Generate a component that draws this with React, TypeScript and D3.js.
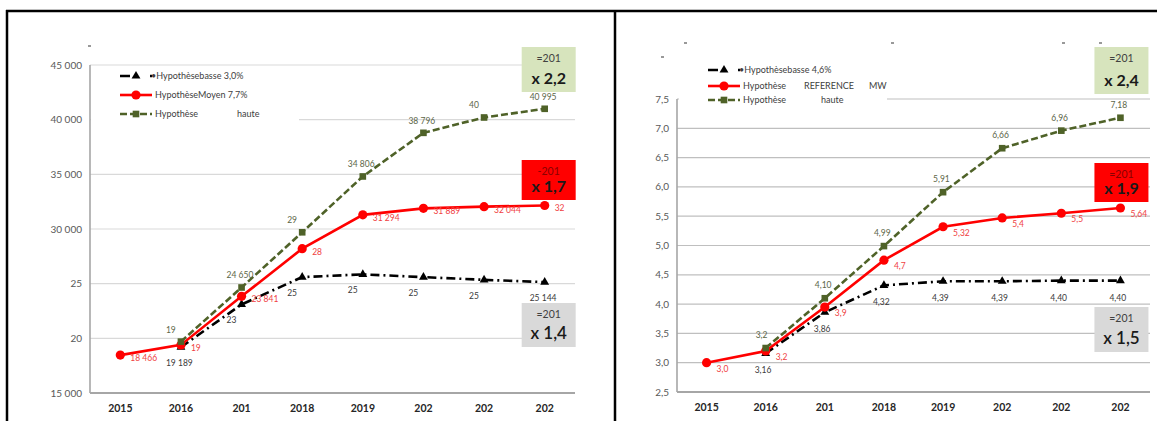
import * as d3 from "d3";
import React from "react";

const W = 1157;
const H = 421;
const FONT = "Lato, 'Open Sans', sans-serif";

// categories (truncated like in the source picture)
const years = ["2015", "2016", "201", "2018", "2019", "202", "202", "202"];

// left chart: demand
const demBasse = [null, 19189, 23100, 25600, 25850, 25600, 25350, 25144];
const demMoyen = [18466, 19400, 23841, 28200, 31294, 31889, 32044, 32150];
const demHaute = [null, 19700, 24650, 29700, 34806, 38796, 40200, 40995];
const demBasseLbl = [null, "19 189", "23", "25", "25", "25", "25", "25 144"];
const demMoyenLbl = ["18 466", "19", "23 841", "28", "31 294", "31 889", "32 044", "32"];
const demHauteLbl = [null, "19", "24 650", "29", "34 806", "38 796", "40", "40 995"];
const demTicks = [15000, 20000, 25000, 30000, 35000, 40000, 45000];
const demTickLbl = ["15 000", "20", "25", "30 000", "35 000", "40 000", "45 000"];
const demRatios = ["x 2,2", "x 1,7", "x 1,4"];
const demRatioHead = ["=201", "-201", "=201"];

// right chart: power
const pwrBasse = [null, 3.16, 3.86, 4.32, 4.39, 4.39, 4.4, 4.4];
const pwrMoyen = [3.0, 3.2, 3.95, 4.75, 5.32, 5.47, 5.55, 5.64];
const pwrHaute = [null, 3.25, 4.1, 4.99, 5.91, 6.66, 6.96, 7.18];
const pwrBasseLbl = [null, "3,16", "3,86", "4,32", "4,39", "4,39", "4,40", "4,40"];
const pwrMoyenLbl = ["3,0", "3,2", "3,9", "4,7", "5,32", "5,4", "5,5", "5,64"];
const pwrHauteLbl = [null, "3,2", "4,10", "4,99", "5,91", "6,66", "6,96", "7,18"];
const pwrTicks = [2.5, 3, 3.5, 4, 4.5, 5, 5.5, 6, 6.5, 7, 7.5];
const pwrTickLbl = ["2,5", "3,0", "3,5", "4,0", "4,5", "5,0", "5,5", "6,0", "6,5", "7,0", "7,5"];
const pwrRatios = ["x 2,4", "x 1,9", "x 1,5"];
const pwrRatioHead = ["=201", "=201", "=201"];

type Num = number | null;
type Kind = "basse" | "moyen" | "haute";

const STYLE: Record<Kind, { stroke: string; dash?: string; label: string }> = {
  basse: { stroke: "#000000", dash: "9,4,2,4", label: "#3a3a3a" },
  moyen: { stroke: "#ff0000", label: "#f0413f" },
  haute: { stroke: "#4f6228", dash: "7,3", label: "#5c6648" },
};

function Marker({ kind, x, y }: { kind: Kind; x: number; y: number }) {
  if (kind === "moyen") return <circle cx={x} cy={y} r={4.6} fill="#ff0000" />;
  const type = kind === "basse" ? d3.symbolTriangle : d3.symbolSquare;
  const size = kind === "basse" ? 34 : 44;
  return (
    <path
      d={d3.symbol().type(type).size(size)() || ""}
      transform={`translate(${x},${y})`}
      fill={STYLE[kind].stroke}
    />
  );
}

type SeriesDef = {
  kind: Kind;
  values: Num[];
  labels: (string | null)[];
  dx: number;
  dy: number;
};

type LegendRow = { kind: Kind; parts: [string, number][] };

type PanelProps = {
  left: number;
  right: number;
  top: number;
  bottom: number;
  domain: [number, number];
  ticks: number[];
  tickLbl: string[];
  grid: string;
  series: SeriesDef[];
  legend: { x: number; y: number; w: number; h: number; rows: LegendRow[]; rowY: number[] };
  boxes: { top: number; h: number; fill: string; head: string; ratio: string; headColor: string; bold: boolean; size: number }[];
  boxDx: number;
  dashes: [number, number][];
};

function Panel(p: PanelProps) {
  const x = d3
    .scaleBand<string>()
    .domain(years.map((_, i) => String(i)))
    .range([p.left, p.right]);
  const cx = (i: number) => (x(String(i)) as number) + x.bandwidth() / 2;
  const y = d3.scaleLinear().domain(p.domain).range([p.bottom, p.top]);
  const line = d3
    .line<Num>()
    .defined((v) => v != null)
    .x((_, i) => cx(i))
    .y((v) => y(v as number));
  const last = years.length - 1;
  const bw = 54;

  return (
    <g>
      {/* grid */}
      {p.ticks.map((t, i) => (
        <line key={"g" + i} x1={p.left} x2={p.right} y1={y(t)} y2={y(t)} stroke={p.grid} strokeWidth={1.2} />
      ))}
      {p.ticks.map((t, i) => (
        <text
          key={"t" + i}
          x={p.left - 8}
          y={y(t) + 3.5}
          textAnchor="end"
          fontSize={10}
          fill="#595959"
        >
          {p.tickLbl[i]}
        </text>
      ))}
      {/* legend background hides the grid */}
      <rect x={p.legend.x} y={p.legend.y} width={p.legend.w} height={p.legend.h} fill="#fff" />
      <line x1={p.left} x2={p.left} y1={y(p.domain[1])} y2={p.bottom} stroke="#a6a6a6" strokeWidth={1.6} />
      <line x1={p.left} x2={p.right} y1={p.bottom} y2={p.bottom} stroke="#a6a6a6" strokeWidth={2.2} />
      {years.map((yr, i) => (
        <text key={"x" + i} x={cx(i)} y={p.bottom + 19} textAnchor="middle" fontSize={10.5} fontWeight="bold" fill="#262626">
          {yr}
        </text>
      ))}

      {/* lines */}
      {p.series.map((s) => (
        <path
          key={s.kind}
          d={line(s.values) || ""}
          fill="none"
          stroke={STYLE[s.kind].stroke}
          strokeWidth={2.6}
          strokeDasharray={STYLE[s.kind].dash}
        />
      ))}
      {p.series.map((s) =>
        s.values.map((v, i) =>
          v == null ? null : <Marker key={s.kind + i} kind={s.kind} x={cx(i)} y={y(v)} />
        )
      )}
      {p.series.map((s) =>
        s.values.map((v, i) =>
          v == null || !s.labels[i] ? null : (
            <text key={s.kind + "l" + i} x={cx(i) + s.dx} y={y(v) + s.dy} fontSize={8.5} fill={STYLE[s.kind].label}>
              {s.labels[i]}
            </text>
          )
        )
      )}

      {/* ratio boxes */}
      {p.boxes.map((b, i) => {
        const bx = cx(last) + p.boxDx - bw / 2;
        return (
          <g key={"b" + i}>
            <rect x={bx} y={b.top} width={bw} height={b.h} fill={b.fill} />
            <text x={bx + bw / 2} y={b.top + 15} textAnchor="middle" fontSize={10.5} fill={b.headColor}>
              {b.head}
            </text>
            <text
              x={bx + bw / 2}
              y={b.top + b.h - 8}
              textAnchor="middle"
              fontSize={b.size}
              fontWeight={b.bold ? "bold" : 600}
              fill="#1a1a1a"
            >
              {b.ratio}
            </text>
          </g>
        );
      })}

      {/* legend */}
      {p.legend.rows.map((r, i) => {
        const ly = p.legend.rowY[i];
        const lx = p.legend.x + 29;
        return (
          <g key={"lg" + i}>
            <line x1={lx} x2={lx + 32} y1={ly} y2={ly} stroke={STYLE[r.kind].stroke} strokeWidth={2.6} strokeDasharray={r.kind === "basse" ? "10,20" : STYLE[r.kind].dash} />
            <Marker kind={r.kind} x={lx + 16} y={ly} />
            {r.parts.map(([t, dx], j) => (
              <text key={j} x={lx + 35 + dx} y={ly + 3} fontSize={9} fill="#404040">
                {t}
              </text>
            ))}
          </g>
        );
      })}

      {p.dashes.map(([dx, dy], i) => (
        <line key={"d" + i} x1={dx} x2={dx + 3} y1={dy} y2={dy} stroke="#555" strokeWidth={1.2} />
      ))}
    </g>
  );
}

export default function App() {
  return (
    <svg
      width={W}
      height={H}
      viewBox={`0 0 ${W} ${H}`}
      style={{ position: "fixed", left: 0, top: 0, background: "#fff", fontFamily: FONT }}
    >
      <rect width={W} height={H} fill="#fff" />
      <Panel
        left={90}
        right={575}
        top={65}
        bottom={393}
        domain={[15000, 45000]}
        ticks={demTicks}
        tickLbl={demTickLbl}
        grid="#d9d9d9"
        series={[
          { kind: "basse", values: demBasse, labels: demBasseLbl, dx: -15, dy: 19 },
          { kind: "moyen", values: demMoyen, labels: demMoyenLbl, dx: 10, dy: 6 },
          { kind: "haute", values: demHaute, labels: demHauteLbl, dx: -15, dy: -9 },
        ]}
        legend={{
          x: 91,
          y: 66,
          w: 208,
          h: 60,
          rowY: [76, 95, 114],
          rows: [
            { kind: "basse", parts: [["•Hypothèsebasse 3,0%", -4]] },
            { kind: "moyen", parts: [["HypothèseMoyen 7,7%", 0]] },
            { kind: "haute", parts: [["Hypothèse", 0], ["haute", 82]] },
          ],
        }}
        boxDx={4}
        boxes={[
          { top: 47, h: 45, fill: "#d7e4bd", head: demRatioHead[0], ratio: demRatios[0], headColor: "#404040", bold: true, size: 16 },
          { top: 160, h: 40, fill: "#ff0000", head: demRatioHead[1], ratio: demRatios[1], headColor: "#8a0000", bold: true, size: 16 },
          { top: 303, h: 44, fill: "#d9d9d9", head: demRatioHead[2], ratio: demRatios[2], headColor: "#404040", bold: false, size: 17 },
        ]}
        dashes={[[88, 46]]}
      />
      <Panel
        left={677}
        right={1150}
        top={99}
        bottom={392}
        domain={[2.5, 7.5]}
        ticks={pwrTicks}
        tickLbl={pwrTickLbl}
        grid="#bfbfbf"
        series={[
          { kind: "basse", values: pwrBasse, labels: pwrBasseLbl, dx: -11, dy: 20 },
          { kind: "moyen", values: pwrMoyen, labels: pwrMoyenLbl, dx: 10, dy: 9 },
          { kind: "haute", values: pwrHaute, labels: pwrHauteLbl, dx: -10, dy: -10 },
        ]}
        legend={{
          x: 679,
          y: 60,
          w: 208,
          h: 47,
          rowY: [70, 86, 100],
          rows: [
            { kind: "basse", parts: [["•Hypothèsebasse 4,6%", -4]] },
            { kind: "moyen", parts: [["Hypothèse", 0], ["REFERENCE", 61], ["MW", 126]] },
            { kind: "haute", parts: [["Hypothèse", 0], ["haute", 78]] },
          ],
        }}
        boxDx={1}
        boxes={[
          { top: 47, h: 47, fill: "#d7e4bd", head: pwrRatioHead[0], ratio: pwrRatios[0], headColor: "#404040", bold: true, size: 16 },
          { top: 163, h: 39, fill: "#ff0000", head: pwrRatioHead[1], ratio: pwrRatios[1], headColor: "#8a0000", bold: true, size: 16 },
          { top: 307, h: 45, fill: "#d9d9d9", head: pwrRatioHead[2], ratio: pwrRatios[2], headColor: "#404040", bold: false, size: 17 },
        ]}
        dashes={[[684, 43], [661, 57], [891, 43], [1062, 43], [1099, 43]]}
      />
      {/* frame */}
      <line x1={6} x2={W} y1={11} y2={11} stroke="#000" strokeWidth={2.5} />
      <line x1={7} x2={7} y1={10} y2={H} stroke="#000" strokeWidth={2.5} />
      <line x1={615} x2={615} y1={10} y2={H} stroke="#000" strokeWidth={2.5} />
    </svg>
  );
}
